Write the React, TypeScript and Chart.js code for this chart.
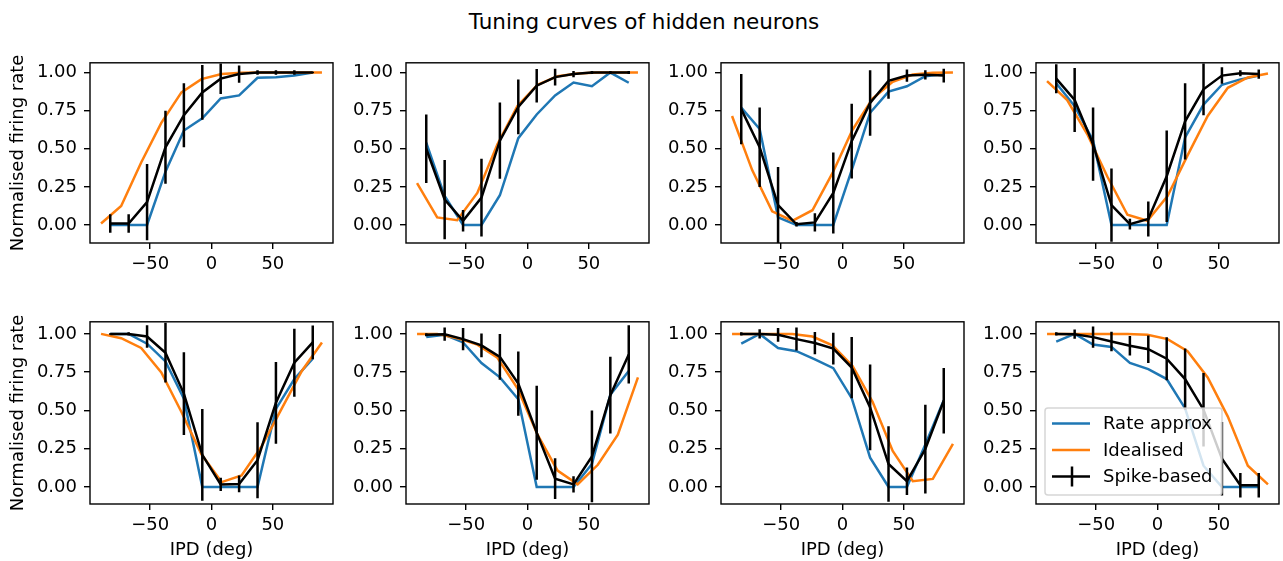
import React, { useEffect, useRef } from "react";
import { Chart, registerables } from "chart.js";
Chart.register(...registerables);

// ---------- data ----------
const BIN_IPD = [-82.5, -67.5, -52.5, -37.5, -22.5, -7.5, 7.5, 22.5, 37.5, 52.5, 67.5, 82.5];
const IDEAL_IPD = [-90, -73.6, -57.3, -40.9, -24.5, -8.2, 8.2, 24.5, 40.9, 57.3, 73.6, 90];
const X_TICKS = [-50, 0, 50];
const Y_TICKS = [0, 0.25, 0.5, 0.75, 1];
const SERIES_NAMES = ["Rate approx", "Idealised", "Spike-based"];

const RATE_1 = [0, 0, 0, 0.35, 0.62, 0.7, 0.83, 0.85, 0.966, 0.97, 0.98, 1.0];
const IDEAL_1 = [0.01, 0.125, 0.41, 0.67, 0.87, 0.957, 0.99, 0.998, 1, 1, 1, 1];
const SPIKE_1 = [0.01, 0.01, 0.15, 0.51, 0.72, 0.87, 0.96, 0.99, 1.0, 1.0, 1.0, 1.0];
const ERR_1 = [0.06, 0.06, 0.25, 0.24, 0.21, 0.18, 0.1, 0.057, 0.015, 0.015, 0.015, 0.005];

const RATE_2 = [0.54, 0.19, 0, 0, 0.195, 0.57, 0.725, 0.85, 0.935, 0.91, 1.0, 0.933];
const IDEAL_2 = [0.275, 0.05, 0.032, 0.21, 0.53, 0.78, 0.92, 0.976, 0.994, 1, 1, 1];
const SPIKE_2 = [0.5, 0.167, 0.028, 0.18, 0.553, 0.775, 0.914, 0.97, 0.99, 1.0, 1.0, 1.0];
const ERR_2 = [0.225, 0.26, 0.07, 0.255, 0.25, 0.18, 0.11, 0.055, 0.02, 0.01, 0.01, 0.01];

const RATE_3 = [0.77, 0.63, 0.05, 0, 0, 0, 0.36, 0.736, 0.875, 0.91, 0.976, 0.99];
const IDEAL_3 = [0.715, 0.36, 0.09, 0.028, 0.097, 0.34, 0.625, 0.83, 0.94, 0.987, 0.998, 1.0];
const SPIKE_3 = [0.76, 0.51, 0.13, 0.005, 0.017, 0.21, 0.55, 0.8, 0.946, 0.98, 0.985, 0.98];
const ERR_3 = [0.23, 0.26, 0.25, 0.015, 0.06, 0.265, 0.245, 0.215, 0.117, 0.04, 0.03, 0.045];

const RATE_4 = [0.93, 0.78, 0.554, 0, 0, 0, 0, 0.575, 0.79, 0.92, 0.955, 0.98];
const IDEAL_4 = [0.944, 0.82, 0.597, 0.318, 0.067, 0.028, 0.19, 0.457, 0.715, 0.9, 0.968, 0.994];
const SPIKE_4 = [0.96, 0.82, 0.53, 0.13, 0.006, 0.04, 0.32, 0.68, 0.89, 0.98, 0.995, 0.99];
const ERR_4 = [0.095, 0.21, 0.24, 0.24, 0.035, 0.115, 0.3, 0.25, 0.17, 0.054, 0.02, 0.03];

const RATE_5 = [1.0, 1.0, 0.936, 0.82, 0.577, 0, 0, 0, 0, 0.51, 0.705, 0.838];
const IDEAL_5 = [1.0, 0.972, 0.908, 0.748, 0.49, 0.214, 0.032, 0.075, 0.267, 0.513, 0.758, 0.944];
const SPIKE_5 = [1.0, 1.0, 0.983, 0.877, 0.61, 0.21, 0.017, 0.02, 0.175, 0.55, 0.812, 0.945];
const ERR_5 = [0.005, 0.01, 0.073, 0.195, 0.27, 0.3, 0.043, 0.055, 0.248, 0.267, 0.222, 0.11];

const RATE_6 = [0.98, 0.994, 0.944, 0.81, 0.716, 0.573, 0, 0, 0, 0.15, 0.603, 0.758];
const IDEAL_6 = [1.0, 1.0, 0.972, 0.93, 0.844, 0.645, 0.342, 0.107, 0.017, 0.145, 0.342, 0.716];
const SPIKE_6 = [0.994, 0.998, 0.966, 0.925, 0.85, 0.675, 0.355, 0.054, 0.017, 0.2, 0.6, 0.866];
const ERR_6 = [0.01, 0.043, 0.072, 0.078, 0.15, 0.21, 0.307, 0.133, 0.053, 0.3, 0.25, 0.19];

const RATE_7 = [0.936, 1.0, 0.908, 0.887, 0.833, 0.776, 0.58, 0.192, 0, 0, 0.277, 0.566];
const IDEAL_7 = [1, 1, 1, 1, 0.983, 0.925, 0.79, 0.556, 0.235, 0.038, 0.053, 0.282];
const SPIKE_7 = [1.0, 1.0, 0.994, 0.966, 0.94, 0.904, 0.78, 0.52, 0.15, 0.038, 0.248, 0.563];
const ERR_7 = [0.01, 0.03, 0.045, 0.075, 0.073, 0.104, 0.2, 0.28, 0.246, 0.09, 0.29, 0.214];

const RATE_8 = [0.95, 1.0, 0.93, 0.915, 0.81, 0.77, 0.705, 0.513, 0.139, 0, 0, 0];
const IDEAL_8 = [1, 1, 1, 1, 1, 0.994, 0.966, 0.887, 0.716, 0.46, 0.139, 0.017];
const SPIKE_8 = [1.0, 0.998, 0.979, 0.95, 0.923, 0.9, 0.838, 0.705, 0.505, 0.185, 0.012, 0.012];
const ERR_8 = [0.01, 0.03, 0.07, 0.064, 0.064, 0.09, 0.14, 0.2, 0.24, 0.24, 0.08, 0.08];

const PANELS = [
  { rate: RATE_1, ideal: IDEAL_1, spike: SPIKE_1, err: ERR_1 },
  { rate: RATE_2, ideal: IDEAL_2, spike: SPIKE_2, err: ERR_2 },
  { rate: RATE_3, ideal: IDEAL_3, spike: SPIKE_3, err: ERR_3 },
  { rate: RATE_4, ideal: IDEAL_4, spike: SPIKE_4, err: ERR_4 },
  { rate: RATE_5, ideal: IDEAL_5, spike: SPIKE_5, err: ERR_5 },
  { rate: RATE_6, ideal: IDEAL_6, spike: SPIKE_6, err: ERR_6 },
  { rate: RATE_7, ideal: IDEAL_7, spike: SPIKE_7, err: ERR_7 },
  { rate: RATE_8, ideal: IDEAL_8, spike: SPIKE_8, err: ERR_8 },
];

// ---------- layout ----------
const COL_LEFT = [90, 406, 721, 1036];
const ROW_TOP = [59, 318];
const ROW_H = [184, 186];
const ROW_YLIM = [
  [-0.118, 1.064],
  [-0.111, 1.079],
];
const AX_W = 243;
const PAD_L = 90;
const PAD_T = 14;
const PAD_R = 14;
const PAD_B = 57;

const BLUE = "#1f77b4";
const ORANGE = "#ff7f0e";
const FONT = "'DejaVu Sans', 'Liberation Sans', sans-serif";
const FS = 18;
const LW = 2.5;

Chart.defaults.color = "#000";
Chart.defaults.font.family = FONT;
Chart.defaults.font.size = FS;

const errorBarPlugin = {
  id: "errorBars",
  afterDatasetsDraw(chart: any) {
    const ctx = chart.ctx;
    const xs = chart.scales.x;
    const ys = chart.scales.y;
    const ca = chart.chartArea;
    chart.data.datasets.forEach((ds: any) => {
      if (!ds.errors) return;
      ctx.save();
      ctx.beginPath();
      ctx.rect(ca.left, ca.top, ca.right - ca.left, ca.bottom - ca.top);
      ctx.clip();
      ctx.strokeStyle = ds.borderColor;
      ctx.lineWidth = ds.borderWidth;
      ctx.lineCap = "butt";
      ds.data.forEach((p: any, i: number) => {
        const e = ds.errors[i];
        const px = xs.getPixelForValue(p.x);
        ctx.beginPath();
        ctx.moveTo(px, ys.getPixelForValue(p.y - e));
        ctx.lineTo(px, ys.getPixelForValue(p.y + e));
        ctx.stroke();
      });
      ctx.restore();
    });
  },
};

const framePlugin = {
  id: "frame",
  afterDraw(chart: any) {
    const ctx = chart.ctx;
    const ca = chart.chartArea;
    ctx.save();
    ctx.strokeStyle = "#000";
    ctx.lineWidth = 1.4;
    ctx.strokeRect(ca.left, ca.top, ca.right - ca.left, ca.bottom - ca.top);
    ctx.restore();
  },
};

function makeLegendPlugin(show: boolean) {
  return {
    id: "boxLegend",
    afterDraw(chart: any) {
      if (!show) return;
      const ctx = chart.ctx;
      const ca = chart.chartArea;
      const bw = 177;
      const bh = 87;
      const bx = ca.left + 9;
      const by = ca.bottom - 9 - bh;
      ctx.save();
      ctx.beginPath();
      if (ctx.roundRect) ctx.roundRect(bx, by, bw, bh, 3);
      else ctx.rect(bx, by, bw, bh);
      ctx.fillStyle = "rgba(255,255,255,0.8)";
      ctx.fill();
      ctx.strokeStyle = "rgba(204,204,204,0.8)";
      ctx.lineWidth = 1.5;
      ctx.stroke();
      const rows = [15.5, 42, 68.5];
      ctx.font = `${FS}px ${FONT}`;
      ctx.textBaseline = "middle";
      ctx.textAlign = "left";
      chart.data.datasets.forEach((ds: any, i: number) => {
        const y = by + rows[i];
        ctx.strokeStyle = ds.borderColor;
        ctx.lineWidth = ds.borderWidth;
        ctx.beginPath();
        ctx.moveTo(bx + 7, y);
        ctx.lineTo(bx + 45, y);
        ctx.stroke();
        if (ds.errors) {
          ctx.beginPath();
          ctx.moveTo(bx + 27, y - 10);
          ctx.lineTo(bx + 27, y + 10);
          ctx.stroke();
        }
        ctx.fillStyle = "#000";
        ctx.fillText(ds.label, bx + 58, y + 1);
      });
      ctx.restore();
    },
  };
}

function Panel({ index }: { index: number }) {
  const ref = useRef<HTMLCanvasElement | null>(null);
  const row = Math.floor(index / 4);
  const col = index % 4;
  const h = ROW_H[row];
  const width = PAD_L + AX_W + PAD_R;
  const height = PAD_T + h + PAD_B;
  const left = COL_LEFT[col] - PAD_L;
  const top = ROW_TOP[row] - PAD_T;

  useEffect(() => {
    const p = PANELS[index];
    const pts = (xs: number[], ys: number[]) => xs.map((x, i) => ({ x, y: ys[i] }));
    const chart = new Chart(ref.current as HTMLCanvasElement, {
      type: "scatter",
      data: {
        datasets: [
          {
            label: SERIES_NAMES[0],
            data: pts(BIN_IPD, p.rate),
            borderColor: BLUE,
            backgroundColor: BLUE,
            borderWidth: LW,
            showLine: true,
            pointRadius: 0,
            order: 3,
          },
          {
            label: SERIES_NAMES[1],
            data: pts(IDEAL_IPD, p.ideal),
            borderColor: ORANGE,
            backgroundColor: ORANGE,
            borderWidth: LW,
            showLine: true,
            pointRadius: 0,
            order: 2,
          },
          {
            label: SERIES_NAMES[2],
            data: pts(BIN_IPD, p.spike),
            errors: p.err,
            borderColor: "#000",
            backgroundColor: "#000",
            borderWidth: LW,
            showLine: true,
            pointRadius: 0,
            order: 1,
          } as any,
        ],
      },
      options: {
        animation: false,
        responsive: false,
        devicePixelRatio: 1,
        events: [],
        layout: { padding: { left: 0, top: PAD_T, right: PAD_R, bottom: 0 } },
        plugins: { legend: { display: false }, tooltip: { enabled: false }, title: { display: false } },
        scales: {
          x: {
            type: "linear",
            min: -99,
            max: 99,
            afterBuildTicks: (s: any) => {
              s.ticks = X_TICKS.map((v) => ({ value: v }));
            },
            afterFit: (s: any) => {
              s.height = PAD_B;
            },
            ticks: {
              color: "#000",
              padding: 5,
              maxRotation: 0,
              autoSkip: false,
              font: { size: FS, family: FONT },
              callback: (v: any) => (Number(v) < 0 ? "\u2212" + Math.abs(Number(v)) : String(v)),
            },
            grid: { display: true, drawOnChartArea: false, drawTicks: true, tickLength: 6, color: "#000", lineWidth: 1.4 },
            border: { display: false },
            title: {
              display: row === 1,
              text: "IPD (deg)",
              color: "#000",
              font: { size: FS, family: FONT },
              padding: { top: 0, bottom: 0 },
            },
          },
          y: {
            type: "linear",
            min: ROW_YLIM[row][0],
            max: ROW_YLIM[row][1],
            afterBuildTicks: (s: any) => {
              s.ticks = Y_TICKS.map((v) => ({ value: v }));
            },
            afterFit: (s: any) => {
              s.width = PAD_L;
            },
            ticks: {
              color: "#000",
              padding: 7,
              autoSkip: false,
              font: { size: FS, family: FONT },
              callback: (v: any) => Number(v).toFixed(2),
            },
            grid: { display: true, drawOnChartArea: false, drawTicks: true, tickLength: 6, color: "#000", lineWidth: 1.4 },
            border: { display: false },
            title: {
              display: col === 0,
              text: "Normalised firing rate",
              color: "#000",
              font: { size: FS, family: FONT },
              padding: { top: 8, bottom: 0 },
            },
          },
        },
      } as any,
      plugins: [errorBarPlugin, framePlugin, makeLegendPlugin(index === 7)],
    });
    return () => chart.destroy();
  }, [index]);

  return (
    <canvas
      ref={ref}
      width={width}
      height={height}
      style={{ position: "absolute", left, top, width, height }}
    />
  );
}

export default function App() {
  return (
    <div
      style={{
        position: "absolute",
        left: 0,
        top: 0,
        width: 1283,
        height: 561,
        background: "#fff",
        overflow: "hidden",
      }}
    >
      <div
        style={{
          position: "absolute",
          left: 644,
          top: 9,
          transform: "translateX(-50%)",
          whiteSpace: "nowrap",
          fontFamily: FONT,
          fontSize: 21.5,
          lineHeight: "26px",
          color: "#000",
        }}
      >
        Tuning curves of hidden neurons
      </div>
      {PANELS.map((_, i) => (
        <Panel key={i} index={i} />
      ))}
    </div>
  );
}
